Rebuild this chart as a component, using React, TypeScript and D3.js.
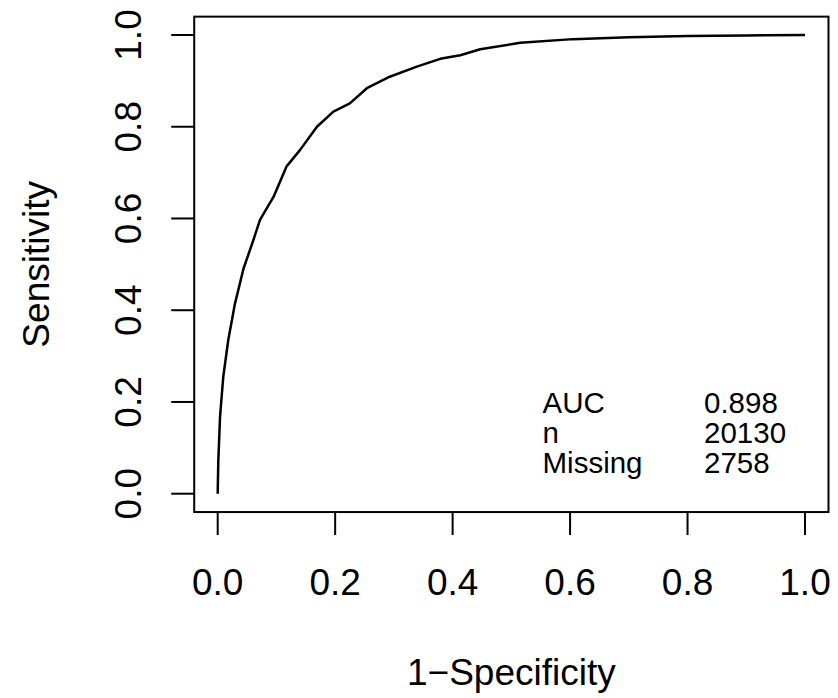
import React from "react";
import * as d3 from "d3";

const fpr = [0, 0.001, 0.004, 0.0095, 0.018, 0.0295, 0.044, 0.06, 0.072, 0.095, 0.117, 0.14, 0.169, 0.197, 0.225, 0.254, 0.293, 0.339, 0.379, 0.413, 0.447, 0.515, 0.605, 0.7, 0.8, 0.9, 1.0];
const tpr = [0, 0.07, 0.168, 0.255, 0.335, 0.415, 0.491, 0.55, 0.597, 0.647, 0.713, 0.749, 0.8, 0.833, 0.851, 0.884, 0.909, 0.931, 0.948, 0.956, 0.969, 0.983, 0.991, 0.995, 0.998, 0.999, 1.0];
const xTicks = [0, 0.2, 0.4, 0.6, 0.8, 1.0];
const yTicks = [0, 0.2, 0.4, 0.6, 0.8, 1.0];
const legendLabels = ["AUC", "n", "Missing"];
const legendValues = ["0.898", "20130", "2758"];
const xTitle = "1\u2212Specificity";
const yTitle = "Sensitivity";

export default function App() {
  const W = 838, H = 698;
  const x = d3.scaleLinear().domain([0, 1]).range([217.7, 805]);
  const y = d3.scaleLinear().domain([0, 1]).range([493.7, 35]);
  const pad = 0.04;
  const bx0 = x(-pad), bx1 = x(1 + pad);
  const by0 = y(-pad), by1 = y(1 + pad);
  const pts: [number, number][] = fpr.map((f, i) => [f, tpr[i]]);
  const line = d3.line<[number, number]>().x(d => x(d[0])).y(d => y(d[1]));
  const font = "'Liberation Sans', Arial, Helvetica, sans-serif";
  const tickLen = 23;
  return (
    <svg width={W} height={H} style={{ position: "absolute", left: 0, top: 0, background: "#fff" }} fontFamily={font}>
      <rect x={0} y={0} width={W} height={H} fill="#fff" />
      <rect x={bx0} y={by1} width={bx1 - bx0} height={by0 - by1} fill="none" stroke="#000" strokeWidth={2} />
      {xTicks.map(t => (
        <g key={"x" + t}>
          <line x1={x(t)} x2={x(t)} y1={by0} y2={by0 + tickLen} stroke="#000" strokeWidth={2} />
          <text x={x(t)} y={595} textAnchor="middle" fontSize={37}>{t.toFixed(1)}</text>
        </g>
      ))}
      {yTicks.map(t => (
        <g key={"y" + t}>
          <line x1={bx0} x2={bx0 - tickLen} y1={y(t)} y2={y(t)} stroke="#000" strokeWidth={2} />
          <text transform={`translate(141,${y(t)}) rotate(-90)`} textAnchor="middle" fontSize={37}>{t.toFixed(1)}</text>
        </g>
      ))}
      <path d={line(pts) || ""} fill="none" stroke="#000" strokeWidth={2.5} strokeLinejoin="round" />
      {legendLabels.map((l, i) => (
        <g key={l}>
          <text x={542.5} y={413.3 + i * 29.7} fontSize={29.5}>{l}</text>
          <text x={704} y={413.3 + i * 29.7} fontSize={29.5}>{legendValues[i]}</text>
        </g>
      ))}
      <text x={(bx0 + bx1) / 2} y={685} textAnchor="middle" fontSize={37}>{xTitle}</text>
      <text transform={`translate(49,${(by0 + by1) / 2}) rotate(-90)`} textAnchor="middle" fontSize={37}>{yTitle}</text>
    </svg>
  );
}
